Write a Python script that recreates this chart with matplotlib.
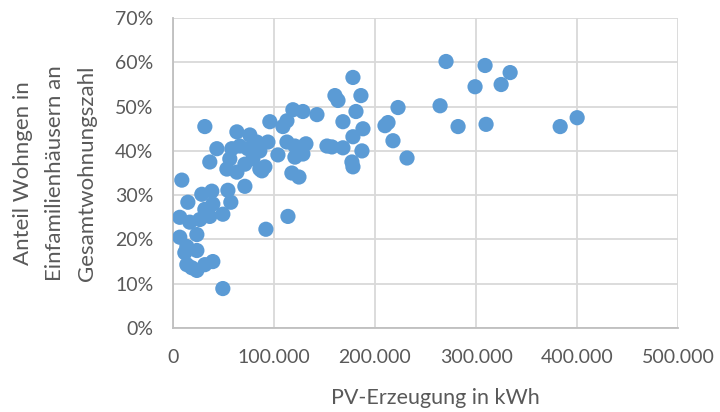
import matplotlib.pyplot as plt
from matplotlib.ticker import FuncFormatter, MultipleLocator

# PV-Erzeugung (kWh) und Anteil Wohnungen in EFH (%)
pv_kwh = [
    270300, 308900, 333700, 299000, 324800, 264400, 282200, 309900, 383200, 400000,
    222800, 212900, 209900, 217800, 231700, 178200, 160400, 163400, 186100, 181200,
    168300, 188100, 178200, 187100, 177200, 178200, 152500, 157400, 168300, 118800,
    128700, 142600, 112900, 108900, 96000, 112900, 120800, 131700, 128700, 120800,
    104000, 117800, 124800, 113900, 92100, 31700, 63400, 76200, 94100, 83200,
    43600, 58400, 74300, 86100, 66300, 79200, 56400, 36600, 71300, 53500,
    63400, 86100, 91100, 88100, 71300, 8900, 14900, 28700, 38600, 54500,
    57400, 39600, 49500, 31700, 6900, 16800, 26700, 36600, 6900, 23800,
    13900, 23800, 11900, 13900, 23800, 31700, 39600, 49500, 18800,
]
anteil_efh = [
    60.2, 59.3, 57.7, 54.5, 55.0, 50.2, 45.5, 46.0, 45.5, 47.5,
    49.8, 46.4, 45.7, 42.3, 38.4, 56.6, 52.5, 51.4, 52.5, 48.9,
    46.6, 45.0, 43.2, 40.0, 37.5, 36.4, 41.1, 40.9, 40.7, 49.3,
    48.9, 48.2, 46.8, 45.5, 46.6, 42.0, 41.1, 41.6, 39.3, 38.6,
    39.1, 35.0, 34.1, 25.2, 22.3, 45.5, 44.3, 43.6, 42.0, 42.0,
    40.5, 40.5, 40.5, 40.0, 41.1, 38.2, 38.2, 37.5, 37.0, 35.9,
    35.2, 35.9, 36.4, 35.5, 32.0, 33.4, 28.4, 30.2, 30.9, 31.1,
    28.4, 28.0, 25.7, 26.8, 25.0, 23.9, 24.5, 25.2, 20.5, 21.1,
    18.4, 17.5, 17.0, 14.3, 13.0, 14.3, 15.0, 8.9, 13.6,
]

text_color = "#595959"
plt.rcParams['font.family'] = ['Lato', 'DejaVu Sans']

fig = plt.figure(figsize=(7.2, 4.12), dpi=100)
ax = fig.add_axes([0.240, 0.204, 0.702, 0.752])

ax.scatter(pv_kwh, anteil_efh, s=120, color="#5B9BD5", edgecolors="none", zorder=3)

ax.set_xlim(0, 500000)
ax.set_ylim(0, 70)
ax.xaxis.set_major_locator(MultipleLocator(100000))
ax.yaxis.set_major_locator(MultipleLocator(10))
ax.xaxis.set_major_formatter(FuncFormatter(lambda v, p: f"{int(v):,}".replace(",", ".")))
ax.yaxis.set_major_formatter(FuncFormatter(lambda v, p: f"{int(v)}%"))

ax.grid(color="#D9D9D9", linewidth=1.3, zorder=0)
ax.set_axisbelow(True)
for side in ["top", "right"]:
    ax.spines[side].set_visible(False)
for side in ["left", "bottom"]:
    ax.spines[side].set_color("#BFBFBF")
    ax.spines[side].set_linewidth(1.3)

ax.tick_params(length=0, labelsize=14, labelcolor=text_color)
ax.tick_params(axis="x", pad=15)
ax.tick_params(axis="y", pad=14)

# axis titles
fig.text(435 / 720, 1 - 398 / 412, "PV-Erzeugung in kWh", fontsize=15.5,
         color=text_color, ha="center", va="center")
fig.text(55 / 720, 1 - 173 / 412,
         "Anteil Wohngen in\nEinfamilienhäusern an\nGesamtwohnungszahl",
         fontsize=16, color=text_color, ha="center", va="center",
         rotation=90, linespacing=1.75, multialignment="center")

fig.savefig("out.png", dpi=100)
